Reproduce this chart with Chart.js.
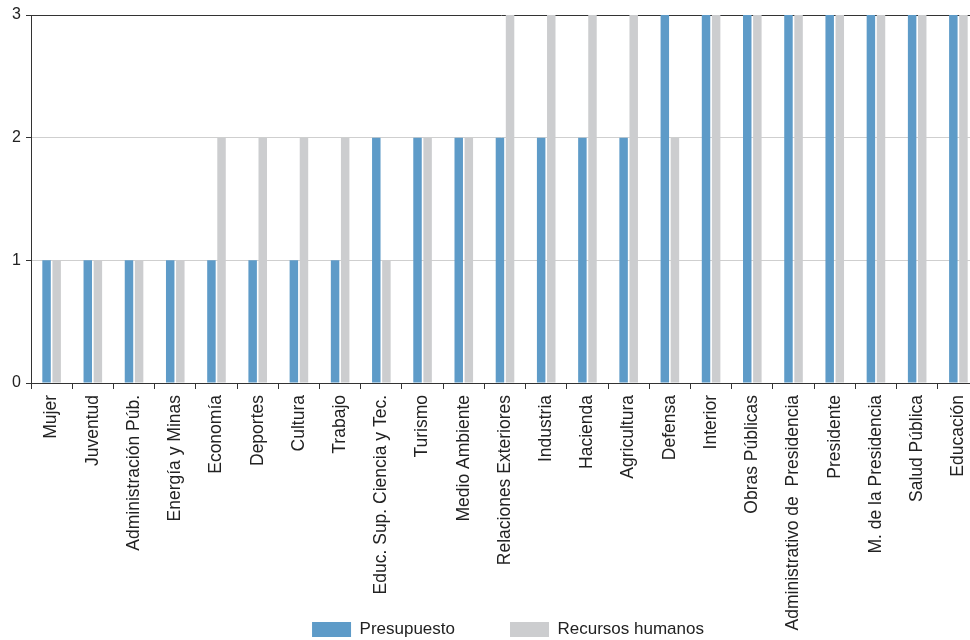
<!DOCTYPE html>
<html>
<head>
<meta charset="utf-8">
<script src="https://cdn.jsdelivr.net/npm/chart.js@4"></script>
<style>
  html, body { margin: 0; padding: 0; background: #fff; }
  #wrap { width: 970px; height: 640px; position: relative; overflow: hidden; }
</style>
</head>
<body>
<div id="wrap"><canvas id="chart" width="970" height="640"></canvas></div>
<script>
// categories + values
const categories = [
  'Mujer', 'Juventud', 'Administración Púb.', 'Energía y Minas', 'Economía',
  'Deportes', 'Cultura', 'Trabajo', 'Educ. Sup. Ciencia y Tec.', 'Turismo',
  'Medio Ambiente', 'Relaciones Exteriores', 'Industria', 'Hacienda', 'Agricultura',
  'Defensa', 'Interior', 'Obras Públicas', 'Administrativo de  Presidencia', 'Presidente',
  'M. de la Presidencia', 'Salud Pública', 'Educación'
];
const presupuesto = [1, 1, 1, 1, 1, 1, 1, 1, 2, 2, 2, 2, 2, 2, 2, 3, 3, 3, 3, 3, 3, 3, 3];
const recursosHumanos = [1, 1, 1, 1, 2, 2, 2, 2, 1, 2, 2, 3, 3, 3, 3, 2, 3, 3, 3, 3, 3, 3, 3];
const yTicks = [0, 1, 2, 3];

const FONT = '"Liberation Sans", Arial, sans-serif';

// legend sits over the label zone in the reference, long labels run down
// past the axis box, and the plot runs a bit past the right edge
const layoutFix = {
  id: 'layoutFix',
  afterLayout(chart) {
    const l = chart.legend;
    if (l) {
      l.left += 23; l.right += 23;
      l.top += 8; l.bottom += 8;
    }
    const x = chart.scales.x;
    const extra = 9;
    x.right += extra; x.width += extra;
    chart.chartArea.right += extra; chart.chartArea.width += extra;
    x.configure();
    x.bottom = chart.height;
  }
};

new Chart(document.getElementById('chart'), {
  type: 'bar',
  data: {
    labels: categories,
    datasets: [
      {
        label: 'Presupuesto',
        data: presupuesto,
        backgroundColor: '#5e9bc8',
        borderWidth: 0
      },
      {
        label: 'Recursos humanos',
        data: recursosHumanos,
        backgroundColor: '#cccdcf',
        borderWidth: 0
      }
    ]
  },
  options: {
    responsive: false,
    animation: false,
    devicePixelRatio: 1,
    layout: { padding: { top: 15, right: 0, left: 0, bottom: 0 } },
    datasets: {
      bar: { categoryPercentage: 0.49, barPercentage: 0.84 }
    },
    plugins: {
      tooltip: { enabled: false },
      legend: {
        position: 'bottom',
        labels: {
          boxWidth: 39,
          boxHeight: 15,
          padding: 55,
          color: '#222',
          font: { family: FONT, size: 17 }
        }
      }
    },
    scales: {
      x: {
        afterFit(scale) {
          scale.height = 175;
          scale.paddingLeft = 0;
          scale.paddingRight = 0;
        },
        border: { color: '#333', width: 1 },
        grid: {
          drawOnChartArea: false,
          tickLength: 6,
          tickColor: '#333',
          offset: true
        },
        ticks: {
          autoSkip: false,
          minRotation: 90,
          maxRotation: 90,
          padding: 6,
          color: '#222',
          font: { family: FONT, size: 17.5 }
        }
      },
      y: {
        min: 0,
        max: 3,
        afterFit(scale) { scale.width = 31; },
        afterBuildTicks(scale) { scale.ticks = yTicks.map(v => ({ value: v })); },
        border: { color: '#333', width: 1 },
        grid: {
          color: ctx => (ctx.tick && (ctx.tick.value === 3 || ctx.tick.value === 0)) ? '#333' : '#cfcfcf',
          tickColor: '#333',
          tickLength: 5
        },
        ticks: {
          padding: 5,
          color: '#222',
          font: { family: FONT, size: 16 }
        }
      }
    }
  },
  plugins: [layoutFix]
});
</script>
</body>
</html>
